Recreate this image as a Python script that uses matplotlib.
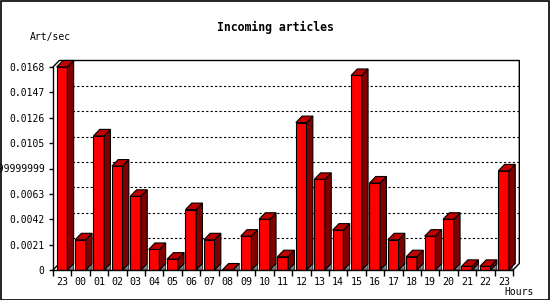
import matplotlib
matplotlib.use("Agg")
import matplotlib.pyplot as plt
from matplotlib.patches import Polygon, Rectangle

# hourly rate of incoming articles (first bar is hour 23 of the day before)
hours = ["23", "00", "01", "02", "03", "04", "05", "06", "07", "08", "09", "10",
         "11", "12", "13", "14", "15", "16", "17", "18", "19", "20", "21", "22", "23"]
rates = [0.0168, 0.0025, 0.0111, 0.0086, 0.0061, 0.0017, 0.0009, 0.0050, 0.0025,
         0.0, 0.0028, 0.0042, 0.0011, 0.0122, 0.0075, 0.0033, 0.0161, 0.0072,
         0.0025, 0.0011, 0.0028, 0.0042, 0.0003, 0.0003, 0.0082]
ytick_vals = [0, 0.0021, 0.0042, 0.0063, 0.0084, 0.0105, 0.0126, 0.0147, 0.0168]
ytick_labels = ["0", "0.0021", "0.0042", "0.0063", "0.0083999999999999",
                "0.0105", "0.0126", "0.0147", "0.0168"]

FONT = "DejaVu Sans Mono"
FRONT, TOP, SIDE, FLOOR = "#ff0000", "#c00000", "#800000", "#808080"

W, H = 550, 300
fig = plt.figure(figsize=(W / 100, H / 100), dpi=100)
ax = fig.add_axes([53 / W, 30 / H, 460 / W, 203 / H])
n = len(rates)
ymax = ytick_vals[-1]
ax.set_xlim(-0.5, n - 0.5)
ax.set_ylim(0, ymax)

# depth offset of the 3d look, given in pixels, turned into data units
px_x = n / 460
px_y = ymax / 203
dx, dy = 6.3 * px_x, 6.5 * px_y

# back wall: dotted grid and frame
x0, x1 = -0.5 + dx, n - 0.5 + dx
for t in ytick_vals[1:-1]:
    ax.plot([x0, x1], [t + dy, t + dy], color="black", lw=0.8,
            ls=(0, (2, 2)), zorder=1, clip_on=False)
ax.plot([-0.5, x0, x1, x1, n - 0.5], [ymax, ymax + dy, ymax + dy, dy, 0],
        color="black", lw=1, zorder=1, clip_on=False)
ax.plot([-0.5, x0], [0, dy], color="black", lw=1, zorder=1, clip_on=False)

# bars
bw = 0.58
lefts = [i - 0.3 for i in range(n)]
ax.bar(lefts, rates, width=bw, align="edge", color=FRONT,
       edgecolor="black", linewidth=0.8, zorder=3)
for xl, v in zip(lefts, rates):
    xr = xl + bw
    ax.add_patch(Polygon([(xr, 0), (xr + dx, dy), (xr + dx, 0)], closed=True,
                         fc=FLOOR, ec="black", lw=0.5, zorder=2))
    ax.add_patch(Polygon([(xr, 0), (xr + dx, dy), (xr + dx, v + dy), (xr, v)],
                         closed=True, fc=SIDE, ec="black", lw=0.8, zorder=3,
                         clip_on=False))
    ax.add_patch(Polygon([(xl, v), (xr, v), (xr + dx, v + dy), (xl + dx, v + dy)],
                         closed=True, fc=TOP, ec="black", lw=0.8, zorder=3,
                         clip_on=False))

for s in ["top", "right"]:
    ax.spines[s].set_visible(False)
for s in ["left", "bottom"]:
    ax.spines[s].set_linewidth(1)
    ax.spines[s].set_zorder(4)

ax.set_yticks(ytick_vals)
ax.set_yticklabels(ytick_labels, fontfamily=FONT, fontsize=7)
ax.tick_params(axis="y", direction="out", length=3, width=1, pad=3)
ax.set_xticks(range(n))
ax.set_xticklabels(hours, fontfamily=FONT, fontsize=7.2)
ax.set_xticks([i - 0.5 for i in range(n + 1)], minor=True)
ax.tick_params(axis="x", which="major", length=0, pad=5)
ax.tick_params(axis="x", which="minor", direction="out", length=4, width=1)

fig.text(275 / W, 1 - 27 / H, "Incoming articles", ha="center", va="center",
         fontfamily=FONT, fontsize=8.3, fontweight="bold")
fig.text(30 / W, 1 - 37 / H, "Art/sec", ha="left", va="center",
         fontfamily=FONT, fontsize=7)
fig.text(534 / W, 1 - 292 / H, "Hours", ha="right", va="center",
         fontfamily=FONT, fontsize=7)

fig.add_artist(Rectangle((0.5 / W, 0.5 / H), 1 - 1.5 / W, 1 - 1.5 / H,
                         transform=fig.transFigure, fill=False,
                         ec="black", lw=1.2))

fig.savefig("out.png", dpi=100)
